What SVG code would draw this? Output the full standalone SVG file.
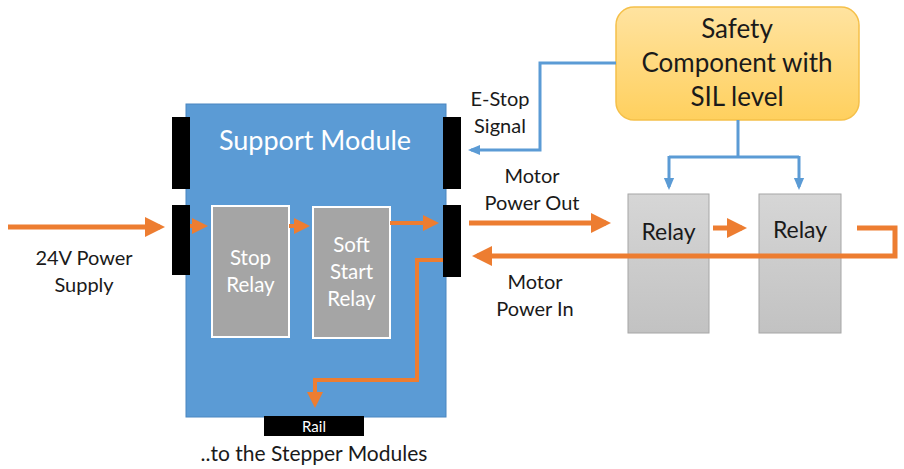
<svg xmlns="http://www.w3.org/2000/svg" width="904" height="469" viewBox="0 0 904 469">
<style>
text{font-family:Lato,"Open Sans","Liberation Sans",sans-serif;text-anchor:middle;}
.lbl{font-size:20px;fill:#1a1a1a;}
.big{font-size:26px;fill:#1a1a1a;}
.rl{font-size:23px;fill:#1a1a1a;}
.in{font-size:20.5px;fill:#fff;}
.wt{fill:#fff;}
.blk{fill:#000;}
.o{stroke:#ed7d31;fill:none;stroke-width:5;}
.oi{stroke:#ed7d31;fill:none;stroke-width:4;}
.b{stroke:#5b9bd5;fill:none;stroke-width:3;}
</style>
<defs>
<marker id="ao" markerWidth="4" markerHeight="4" refX="3" refY="2" orient="auto" markerUnits="strokeWidth" viewBox="0 0 4 4"><path d="M0,0 L4,2 L0,4 z" fill="#ed7d31"/></marker>
<marker id="ab" markerWidth="4" markerHeight="4" refX="3" refY="2" orient="auto" markerUnits="strokeWidth" viewBox="0 0 4 4"><path d="M0,0.3 L4,2 L0,3.7 z" fill="#5b9bd5"/></marker>
<linearGradient id="gy" x1="0" y1="0" x2="0" y2="1"><stop offset="0" stop-color="#ffe3a0"/><stop offset="1" stop-color="#ffd05e"/></linearGradient>
<linearGradient id="gg" x1="0" y1="0" x2="0" y2="1"><stop offset="0" stop-color="#d6d6d6"/><stop offset="1" stop-color="#c2c2c2"/></linearGradient>
</defs>
<g id="support-module">
<rect x="186" y="104" width="260" height="313" fill="#5b9bd5" stroke="#4a86c0" stroke-width="1"/>
<text x="315" y="150" font-size="27" class="wt">Support Module</text>
</g>
<g id="ports">
<rect x="172" y="117" width="18" height="72" class="blk"/>
<rect x="172" y="205" width="18" height="70" class="blk"/>
<rect x="443" y="117" width="18" height="72" class="blk"/>
<rect x="443" y="205" width="18" height="72" class="blk"/>
</g>
<g id="stop-relay">
<rect x="212" y="206" width="77" height="131" fill="#a5a5a5" stroke="#fff" stroke-width="2"/>
<text x="250.5" y="265" class="in">Stop</text>
<text x="250.5" y="292" class="in">Relay</text>
</g>
<g id="soft-start-relay">
<rect x="313" y="207" width="77" height="131" fill="#a5a5a5" stroke="#fff" stroke-width="2"/>
<text x="351.5" y="252" class="in">Soft</text>
<text x="351.5" y="279" class="in">Start</text>
<text x="351.5" y="306" class="in">Relay</text>
</g>
<g id="rail">
<rect x="264" y="416" width="100" height="20" class="blk"/>
<text x="314" y="432" font-size="15" class="wt">Rail</text>
</g>
<g id="safety-component">
<rect x="616" y="7" width="243" height="113" rx="18" fill="url(#gy)" stroke="#f5c04a" stroke-width="1.5"/>
<text x="737" y="38" class="big">Safety</text>
<text x="737" y="72" class="big">Component with</text>
<text x="737" y="106" class="big">SIL level</text>
</g>
<g id="relay-1">
<rect x="628" y="194" width="81" height="139" fill="url(#gg)" stroke="#a6a6a6" stroke-width="1"/>
<text x="668.5" y="240" class="rl">Relay</text>
</g>
<g id="relay-2">
<rect x="759" y="194" width="82" height="139" fill="url(#gg)" stroke="#a6a6a6" stroke-width="1"/>
<text x="800" y="238" class="rl">Relay</text>
</g>
<g id="labels">
<text x="500" y="106" class="lbl">E-Stop</text>
<text x="500" y="133" class="lbl">Signal</text>
<text x="532" y="183" class="lbl">Motor</text>
<text x="532" y="210" class="lbl">Power Out</text>
<text x="535" y="289" class="lbl">Motor</text>
<text x="535" y="316" class="lbl">Power In</text>
<text x="84" y="265" class="lbl">24V Power</text>
<text x="84" y="292" class="lbl">Supply</text>
<text x="314" y="461" class="lbl" style="font-size:21px">..to the Stepper Modules</text>
</g>
<g id="connectors">
<path class="o" d="M8,227 H160" marker-end="url(#ao)"/>
<path class="oi" d="M190,226 H204" marker-end="url(#ao)"/>
<path class="oi" d="M289,226 H306" marker-end="url(#ao)"/>
<path class="oi" d="M390,223 H435" marker-end="url(#ao)"/>
<path class="oi" d="M443,260 H417 V380 H315 V404" marker-end="url(#ao)"/>
<path class="o" d="M469,223 H606" marker-end="url(#ao)"/>
<path class="o" d="M713,228 H742" marker-end="url(#ao)"/>
<path class="o" d="M857,228 H895 V256 H477" marker-end="url(#ao)"/>
<path class="b" d="M616,63 H540 V150 H471" marker-end="url(#ab)"/>
<path class="b" d="M738,120 V157"/>
<path class="b" d="M669,157 H799"/>
<path class="b" d="M669,156 V187" marker-end="url(#ab)"/>
<path class="b" d="M799,156 V187" marker-end="url(#ab)"/>
</g>
</svg>
